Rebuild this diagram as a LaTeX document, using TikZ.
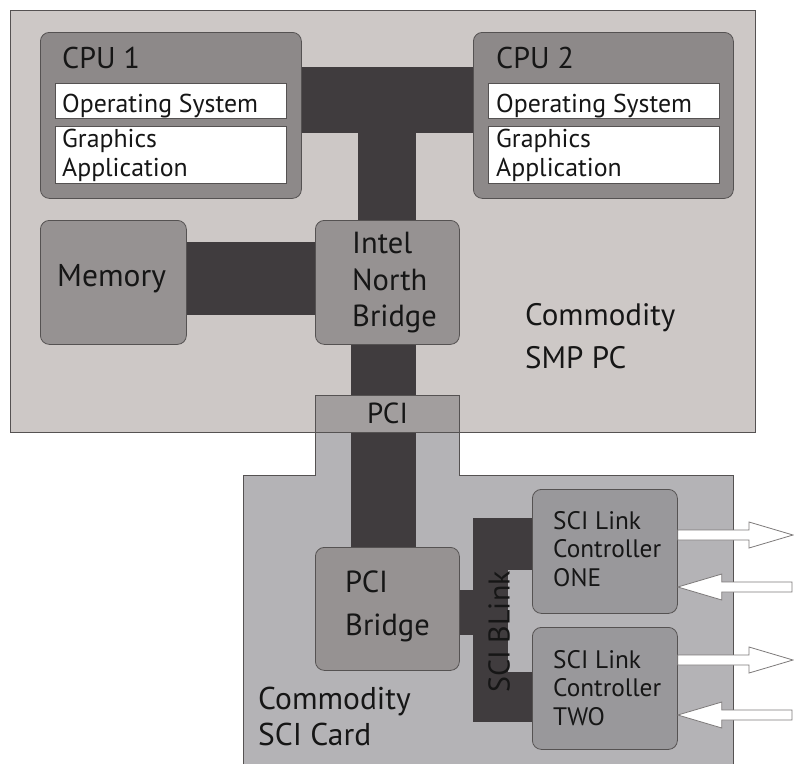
\documentclass[tikz,border=0pt]{standalone}
\usepackage{fontspec}
\setmainfont{PT Sans}
\usetikzlibrary{calc}

\definecolor{pcgrey}{RGB}{205,200,198}
\definecolor{cardgrey}{RGB}{180,179,182}
\definecolor{pcigrey}{RGB}{162,158,158}
\definecolor{cpugrey}{RGB}{141,137,137}
\definecolor{chipgrey}{RGB}{150,146,146}
\definecolor{ctrlgrey}{RGB}{153,152,155}
\definecolor{busgrey}{RGB}{64,60,62}
\definecolor{edgegrey}{RGB}{85,82,82}
\definecolor{arrowgrey}{RGB}{125,122,122}
\definecolor{inkgrey}{RGB}{22,22,22}

\begin{document}
\begin{tikzpicture}[x=1pt,y=-1pt,
  frame/.style={draw=edgegrey,line width=0.7pt,anchor=north west,inner sep=0pt},
  chip/.style={draw=edgegrey,line width=0.8pt,rounded corners=9pt,anchor=north west,inner sep=0pt},
  layer/.style={draw=edgegrey,line width=0.6pt,fill=white,anchor=north west,inner sep=0pt},
  lbl/.style={anchor=base west,inner sep=0pt,text=inkgrey,align=left},
  fatarrow/.style={fill=white,draw=arrowgrey,line width=0.8pt,line join=miter,
    to path={($(\tikztostart)!5pt!90:(\tikztotarget)$)
      -- ($(\tikztotarget)!44pt!(\tikztostart)!5pt!90:(\tikztotarget)$)
      -- ($(\tikztotarget)!44pt!(\tikztostart)!13pt!90:(\tikztotarget)$)
      -- (\tikztotarget)
      -- ($(\tikztotarget)!44pt!(\tikztostart)!13pt!-90:(\tikztotarget)$)
      -- ($(\tikztotarget)!44pt!(\tikztostart)!5pt!-90:(\tikztotarget)$)
      -- ($(\tikztostart)!5pt!-90:(\tikztotarget)$) -- cycle}}]
  \path[use as bounding box] (0,0) rectangle (794,763);
  \clip (0,0) rectangle (794,763);
  % PC og kort
  \node[frame,fill=pcgrey,minimum width=745pt,minimum height=422pt] (pc) at (10,10) {};
  \draw[draw=edgegrey,line width=0.7pt,fill=cardgrey]
    (315,432) -- (459,432) -- (459,475) -- (733,475) -- (733,780)
    -- (243,780) -- (243,475) -- (315,475) -- cycle;
  % Bokser
  \node[chip,fill=cpugrey,minimum width=261pt,minimum height=166pt] (cpu1) at (40,32) {};
  \node[chip,fill=cpugrey,minimum width=260pt,minimum height=166pt] (cpu2) at (473,32) {};
  \node[layer,minimum width=231pt,minimum height=35pt] (os1) at (55,83) {};
  \node[layer,minimum width=231pt,minimum height=57pt] (app1) at (55,126) {};
  \node[layer,minimum width=231pt,minimum height=35pt] (os2) at (488,83) {};
  \node[layer,minimum width=231pt,minimum height=57pt] (app2) at (488,126) {};
  % Busser
  \draw[busgrey,line width=66pt] (cpu1.east |- 0,100) -- (cpu2.west |- 0,100);
  \draw[busgrey,line width=58pt] (387,100) -- (387,222);
  \draw[busgrey,line width=73pt] (184,278.5) -- (317,278.5);
  \draw[busgrey,line width=65pt] (383.5,342) -- (383.5,549);
  \node[fill=busgrey,anchor=north west,inner sep=0pt,minimum width=35pt,minimum height=204pt] (blink) at (473,518) {};
  \draw[busgrey,line width=45pt] (457,612.5) -- (blink.west |- 0,612.5);
  \draw[busgrey,line width=52pt] (blink.east |- 0,544) -- (534,544);
  \draw[busgrey,line width=50pt] (blink.east |- 0,697) -- (534,697);
  % Brikker
  \node[chip,fill=chipgrey,minimum width=146pt,minimum height=124pt] (mem) at (40,220) {};
  \node[chip,fill=chipgrey,minimum width=144pt,minimum height=124pt] (nb) at (315,220) {};
  \node[frame,fill=pcigrey,minimum width=144pt,minimum height=37pt] (pci) at (315,395) {};
  \node[chip,fill=chipgrey,minimum width=144pt,minimum height=123pt] (pcib) at (315,547) {};
  \node[chip,fill=ctrlgrey,minimum width=145pt,minimum height=124pt] (lc1) at (532,489) {};
  \node[chip,fill=ctrlgrey,minimum width=145pt,minimum height=122pt] (lc2) at (532,627) {};
  % Tekst
  \node[lbl,font=\fontsize{30}{36}\selectfont] (cpu1t) at (62,68) {CPU 1};
  \node[lbl,font=\fontsize{30}{36}\selectfont] (cpu2t) at (496,68) {CPU 2};
  \node[lbl,font=\fontsize{25.8}{29}\selectfont] (os1t) at (62,112) {Operating System};
  \node[lbl,font=\fontsize{25.8}{29}\selectfont] (os2t) at (496,112) {Operating System};
  \node[lbl,font=\fontsize{25.8}{29}\selectfont,anchor=north west] (app1t) at (62,129) {Graphics\\Application};
  \node[lbl,font=\fontsize{25.8}{29}\selectfont,anchor=north west] (app2t) at (496,129) {Graphics\\Application};
  \node[lbl,font=\fontsize{31.5}{36}\selectfont] (memt) at (57,286) {Memory};
  \node[lbl,font=\fontsize{30.5}{36.5}\selectfont,anchor=north west] (nbt) at (352,232) {Intel\\North\\Bridge};
  \node[lbl,font=\fontsize{29}{32}\selectfont] (pcit) at (367,423) {PCI};
  \node[lbl,font=\fontsize{30.5}{43}\selectfont,anchor=north west] (pcibt) at (345,571) {PCI\\Bridge};
  \node[lbl,font=\fontsize{31}{43}\selectfont,anchor=north west] (pct) at (525,303) {Commodity\\SMP PC};
  \node[lbl,font=\fontsize{31.5}{36}\selectfont,anchor=north west] (cardt) at (258,687) {Commodity\\SCI Card};
  \node[lbl,font=\fontsize{25.3}{28.5}\selectfont,anchor=north west] (lc1t) at (553,511) {SCI Link\\Controller\\ONE};
  \node[lbl,font=\fontsize{25.3}{28.5}\selectfont,anchor=north west] (lc2t) at (553,650) {SCI Link\\Controller\\TWO};
  \node[text=inkgrey,inner sep=0pt,rotate=90,font=\fontsize{30}{36}\selectfont] (blinkt) at (499,632) {SCI BLink};
  % Lenker ut og inn
  \coordinate (out1) at (793,535);
  \coordinate (in1) at (792,587);
  \coordinate (out2) at (793,660);
  \coordinate (in2) at (792,715);
  \draw[fatarrow] (lc1.east |- out1) to (out1);
  \draw[fatarrow] (in1) to (lc1.east |- in1);
  \draw[fatarrow] (lc2.east |- out2) to (out2);
  \draw[fatarrow] (in2) to (lc2.east |- in2);
\end{tikzpicture}
\end{document}
